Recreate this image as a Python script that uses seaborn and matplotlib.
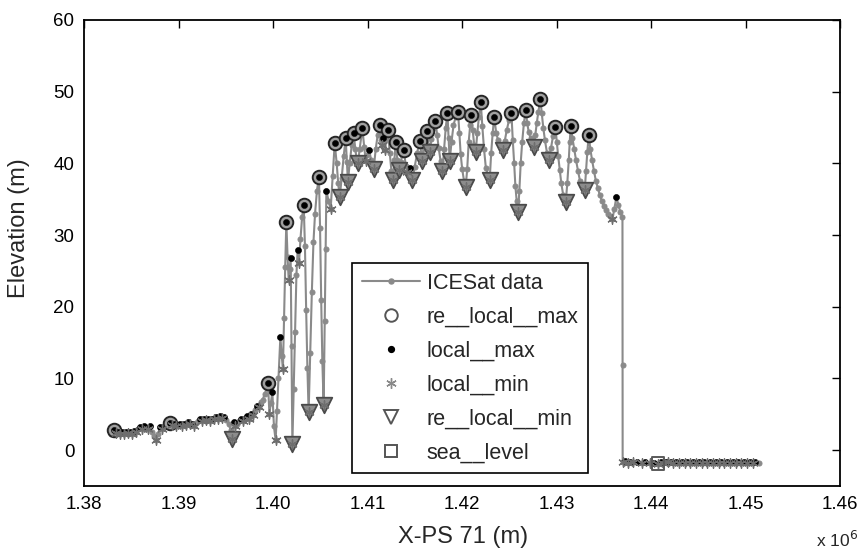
import numpy as np
import pandas as pd
import matplotlib
matplotlib.use("Agg")
import matplotlib.pyplot as plt
from matplotlib.lines import Line2D
from matplotlib.ticker import FuncFormatter
import seaborn as sns

# ---------------- data ----------------
# along-track position in km (X-PS 71) and ICESat elevation in m
x_km = [
    1382.82, 1383.03, 1383.21, 1383.40, 1383.56, 1383.77, 1383.98, 1384.19, 1384.40, 1384.62,
    1384.83, 1385.04, 1385.25, 1385.46, 1385.67, 1385.89, 1386.10, 1386.31, 1386.52, 1386.73,
    1386.94, 1387.16, 1387.37, 1387.65, 1387.84, 1388.06, 1388.27, 1388.53, 1388.80, 1389.06,
    1389.27, 1389.48, 1389.70, 1389.91, 1390.12, 1390.33, 1390.54, 1390.75, 1390.97, 1391.18,
    1391.39, 1391.60, 1391.81, 1392.02, 1392.24, 1392.45, 1392.66, 1392.87, 1393.08, 1393.29,
    1393.51, 1393.72, 1393.93, 1394.14, 1394.35, 1394.56, 1394.78, 1395.04, 1395.31, 1395.52,
    1395.70, 1395.84, 1395.99, 1396.15, 1396.36, 1396.58, 1396.79, 1397.00, 1397.21, 1397.42,
    1397.63, 1397.85, 1398.06, 1398.27, 1398.48, 1398.69, 1398.90, 1399.12, 1399.33, 1399.47,
    1399.62, 1399.77, 1399.93, 1400.10, 1400.28, 1400.42, 1400.58, 1400.78, 1400.92, 1401.05,
    1401.17, 1401.29, 1401.41, 1401.54, 1401.66, 1401.76, 1401.87, 1401.96, 1402.05, 1402.19,
    1402.33, 1402.48, 1402.61, 1402.75, 1402.91, 1403.08, 1403.25, 1403.38, 1403.51, 1403.64,
    1403.77, 1403.94, 1404.11, 1404.28, 1404.45, 1404.65, 1404.86, 1404.98, 1405.10, 1405.22,
    1405.36, 1405.47, 1405.56, 1405.65, 1405.87, 1406.10, 1406.32, 1406.53,
    1406.74, 1406.90, 1407.06, 1407.27, 1407.48, 1407.69, 1407.82, 1407.93, 1408.11, 1408.33,
    1408.54, 1408.70, 1408.86, 1408.99, 1409.17, 1409.46, 1409.65, 1409.81, 1409.99, 1410.16,
    1410.39, 1410.65, 1410.87, 1411.08, 1411.29, 1411.45, 1411.55, 1411.64, 1411.82, 1412.00,
    1412.17, 1412.35, 1412.53, 1412.70, 1412.85, 1412.98, 1413.16, 1413.33, 1413.51, 1413.69,
    1413.86, 1414.04, 1414.20, 1414.34, 1414.47, 1414.61, 1414.75, 1414.99, 1415.26, 1415.52,
    1415.67, 1415.81, 1416.00, 1416.16, 1416.30, 1416.44, 1416.58, 1416.77, 1416.95, 1417.19,
    1417.37, 1417.53, 1417.74, 1417.93, 1418.10, 1418.28, 1418.46, 1418.58, 1418.70, 1418.89,
    1419.10, 1419.33, 1419.58, 1419.72, 1419.86, 1420.02, 1420.21, 1420.39, 1420.55, 1420.71,
    1420.87, 1421.00, 1421.13, 1421.29, 1421.45, 1421.62, 1421.79, 1421.98, 1422.15, 1422.33,
    1422.53, 1422.93, 1423.09, 1423.25, 1423.41, 1423.62, 1423.83, 1424.10, 1424.34, 1424.52,
    1424.73, 1424.97, 1425.23, 1425.37, 1425.52, 1425.65, 1425.79, 1425.93, 1426.07, 1426.21,
    1426.37, 1426.55, 1426.74, 1426.90, 1427.06, 1427.25, 1427.43, 1427.62, 1427.76, 1427.91,
    1428.08, 1428.30, 1428.44, 1428.60, 1428.78, 1428.99, 1429.21, 1429.41, 1429.63, 1429.89,
    1430.03, 1430.18, 1430.34, 1430.51, 1430.71, 1430.98, 1431.14, 1431.30, 1431.40, 1431.51,
    1431.68, 1431.87, 1432.06, 1432.27, 1432.48, 1432.71, 1432.99, 1433.13, 1433.26, 1433.41,
    1433.58, 1433.76, 1433.96, 1434.16, 1434.37, 1434.58, 1434.79, 1435.00, 1435.21, 1435.44,
    1435.68, 1435.92, 1436.11, 1436.34, 1436.55, 1436.76, 1436.98, 1436.99,
    1437.00, 1437.28, 1437.55, 1437.83, 1438.10, 1438.50, 1439.00, 1439.40, 1439.85, 1440.30,
    1440.75, 1441.05, 1441.30, 1441.55, 1441.82, 1442.10, 1442.38, 1442.65, 1442.95, 1443.25,
    1443.55, 1443.85, 1444.15, 1444.45, 1444.75, 1445.05, 1445.35, 1445.65, 1445.95, 1446.25,
    1446.55, 1446.85, 1447.15, 1447.45, 1447.75, 1448.05, 1448.35, 1448.65, 1448.95, 1449.25,
    1449.55, 1449.85, 1450.15, 1450.45, 1450.75, 1451.05, 1451.45,
]
elevation = [
    2.3, 2.6, 2.8, 2.4, 2.6, 2.2, 2.5, 2.3, 2.6, 2.4,
    2.5, 2.2, 2.7, 2.5, 3.0, 3.2, 2.9, 3.3, 3.0, 2.9,
    3.3, 2.6, 2.0, 1.4, 2.3, 3.2, 3.0, 3.3, 3.5, 3.8,
    3.5, 3.6, 3.4, 3.6, 3.7, 3.4, 3.6, 3.5, 3.9, 3.6,
    3.7, 3.4, 3.8, 4.0, 4.3, 4.1, 4.4, 4.2, 4.3, 4.1,
    4.4, 4.3, 4.6, 4.4, 4.7, 4.5, 4.6, 4.2, 3.7, 2.8,
    1.5, 3.9, 3.3, 3.6, 4.1, 4.3, 4.0, 4.5, 4.7, 4.4,
    5.1, 4.9, 5.6, 6.2, 6.0, 6.7, 7.0, 7.8, 8.6, 9.3,
    5.1, 6.6, 8.1, 3.3, 1.4, 5.4, 10.0, 15.8, 13.2, 11.3,
    18.5, 25.5, 31.8, 27.0, 23.7, 25.2, 26.8, 14.5, 0.8, 8.5,
    16.5, 24.5, 27.9, 26.1, 29.5, 32.5, 34.2, 28.5, 19.5, 11.5,
    5.3, 13.5, 22.0, 29.0, 33.0, 36.2, 38.1, 31.0, 21.0, 12.5,
    6.3, 18.0, 28.0, 36.2, 34.8, 33.6, 38.3, 42.8,
    40.0, 37.2, 35.3, 38.0, 41.0, 43.5, 40.2, 37.4, 40.0, 42.5,
    44.3, 42.0, 40.6, 40.0, 42.0, 44.9, 42.3, 40.4, 41.2, 41.9,
    40.5, 39.2, 42.0, 44.0, 45.4, 43.3, 42.6, 43.5, 41.8, 43.2,
    44.6, 41.5, 39.0, 37.7, 40.5, 43.0, 40.5, 39.1, 40.2, 41.2,
    41.9, 39.7, 38.8, 39.1, 39.4, 38.4, 37.7, 39.5, 41.5, 43.1,
    41.5, 40.4, 42.2, 43.6, 44.5, 42.6, 41.6, 43.4, 44.9, 45.9,
    44.0, 42.2, 40.3, 39.0, 42.0, 45.0, 47.0, 43.5, 40.4, 43.0,
    45.3, 46.5, 47.2, 44.2, 41.3, 39.2, 37.6, 36.7, 39.2, 43.0,
    45.4, 46.7, 44.6, 42.6, 41.6, 44.2, 46.5, 48.6, 45.2, 42.0,
    39.3, 37.7, 41.5, 44.3, 46.5, 44.2, 43.2, 42.4, 41.8, 43.1,
    44.6, 46.0, 47.0, 43.3, 40.0, 36.8, 34.7, 33.2, 36.2, 40.0,
    43.0, 45.6, 47.5, 45.6, 44.4, 43.5, 42.8, 42.3, 44.0, 45.6,
    47.2, 49.0, 47.0, 45.0, 43.2, 41.5, 40.5, 42.1, 43.8, 45.1,
    43.0, 41.0, 39.1, 37.2, 35.6, 34.6, 37.2, 40.5, 43.0, 45.2,
    43.6, 42.0, 40.5, 39.0, 37.6, 36.8, 36.3, 39.0, 41.6, 43.9,
    42.0, 40.5, 39.0, 37.6, 36.6, 35.6, 34.8, 34.1, 33.5, 33.0,
    32.6, 32.2, 33.6, 35.3, 34.2, 33.2, 32.5, 11.9,
    -1.70, -1.58, -1.74, -1.62, -1.71, -1.66, -1.76, -1.70, -1.78, -1.74,
    -1.88, -1.66, -1.78, -1.62, -1.72, -1.64, -1.76, -1.66, -1.80, -1.69,
    -1.75, -1.63, -1.74, -1.66, -1.79, -1.70, -1.82, -1.68, -1.76, -1.69,
    -1.80, -1.72, -1.78, -1.67, -1.77, -1.70, -1.81, -1.71, -1.77, -1.66,
    -1.75, -1.68, -1.79, -1.70, -1.76, -1.68, -1.73,
]
# positions (km) of retained local maxima / minima and of the sea-level shot
re_local_max_km = [
    1383.21, 1389.06, 1399.47, 1401.41, 1403.25, 1404.86, 1406.53, 1407.69, 1408.54, 1409.46,
    1411.29, 1412.17, 1412.98, 1413.86, 1415.52, 1416.30, 1417.19, 1418.46, 1419.58, 1421.00,
    1421.98, 1423.41, 1425.23, 1426.74, 1428.30, 1429.89, 1431.51, 1433.41,
]
re_local_min_km = [
    1395.70, 1402.05, 1403.77, 1405.36, 1407.06, 1407.93, 1408.99, 1410.65, 1412.70, 1413.33,
    1414.75, 1415.81, 1416.58, 1417.93, 1418.70, 1420.39, 1421.45, 1422.93, 1424.34, 1425.93,
    1427.62, 1429.21, 1430.98, 1432.99,
]
sea_level_km = [1440.75]

x_ticks = [1.38, 1.39, 1.40, 1.41, 1.42, 1.43, 1.44, 1.45, 1.46]
y_ticks = [0, 10, 20, 30, 40, 50, 60]
legend_labels = ["ICESat data", "re__local__max", "local__max", "local__min",
                 "re__local__min", "sea__level"]

# ---------------- derived tables ----------------
xk = np.array(x_km)
y = np.array(elevation)
df = pd.DataFrame({"x": xk * 1000.0, "elev": y})

inner = np.arange(1, len(y) - 1)
is_max = (y[1:-1] > y[:-2]) & (y[1:-1] > y[2:])
is_min = (y[1:-1] < y[:-2]) & (y[1:-1] < y[2:])
lmax = df.iloc[inner[is_max]]
lmin = df.iloc[inner[is_min]]


def snap(lst):
    return df.iloc[[int(np.argmin(np.abs(xk - v))) for v in lst]]


rmax = snap(re_local_max_km)
rmin = snap(re_local_min_km)
sea = snap(sea_level_km)

# ---------------- figure ----------------
sns.set_theme(style="white")
plt.rcParams["font.family"] = ["Liberation Sans", "DejaVu Sans"]
plt.rcParams["axes.linewidth"] = 1.3
plt.rcParams["axes.edgecolor"] = "black"

fig = plt.figure(figsize=(8.67, 5.53), dpi=100)
ax = fig.add_axes([84 / 867, (553 - 486) / 553, (840 - 84) / 867, 466 / 553])

LINE = "#8a8a8a"
sns.lineplot(data=df, x="x", y="elev", sort=False, estimator=None, color=LINE,
             lw=1.5, marker="o", markersize=3.6, markeredgecolor=LINE,
             markerfacecolor=LINE, ax=ax, zorder=2)

sns.scatterplot(data=rmax, x="x", y="elev", marker="o", s=95, facecolor="#a0a0a0",
                edgecolor="#262626", linewidth=1.4, ax=ax, zorder=3)
sns.scatterplot(data=lmax, x="x", y="elev", marker="o", s=20, color="black",
                edgecolor="black", linewidth=0.3, ax=ax, zorder=4)
sns.scatterplot(data=rmin, x="x", y="elev", marker="v", s=125, facecolor="#8c8c8c",
                edgecolor="#4a4a4a", linewidth=1.3, ax=ax, zorder=5)
sns.scatterplot(data=lmin, x="x", y="elev", marker=(6, 2, 0), s=45, color="#6e6e6e",
                linewidth=1.0, ax=ax, zorder=6)
sns.scatterplot(data=sea, x="x", y="elev", marker="s", s=80, facecolor="none",
                edgecolor="#5a5a5a", linewidth=1.4, ax=ax, zorder=7)

ax.set_xlim(1.38e6, 1.46e6)
ax.set_ylim(-5, 60)
ax.set_xticks([t * 1e6 for t in x_ticks])
ax.xaxis.set_major_formatter(FuncFormatter(lambda v, p: f"{v / 1e6:.2f}"))
ax.set_yticks(y_ticks)
ax.tick_params(direction="in", top=True, right=True, length=6, width=1.0,
               labelsize=13.5, colors="black", pad=7)
for s in ax.spines.values():
    s.set_visible(True)
    s.set_color("black")
    s.set_linewidth(1.3)

ax.set_xlabel("X-PS 71 (m)", fontsize=17)
ax.set_ylabel("Elevation (m)", fontsize=17)
ax.xaxis.label.set_va("center")
ax.yaxis.label.set_va("center")
ax.xaxis.set_label_coords(0.501, -0.109)
ax.yaxis.set_label_coords(-0.086, 0.554)
fig.text(0.99, 0.006, r"x 10$^{6}$", ha="right", va="bottom", fontsize=12.5)

handles = [
    Line2D([], [], color=LINE, lw=1.5, marker="o", ms=3.6, mfc=LINE, mec=LINE),
    Line2D([], [], ls="", marker="o", ms=9, mfc="none", mec="#555555", mew=1.4),
    Line2D([], [], ls="", marker="o", ms=4.2, mfc="black", mec="black"),
    Line2D([], [], ls="", marker=(6, 2, 0), ms=7.5, color="#8a8a8a", mew=1.0),
    Line2D([], [], ls="", marker="v", ms=10.5, mfc="none", mec="#555555", mew=1.4),
    Line2D([], [], ls="", marker="s", ms=8.5, mfc="none", mec="#555555", mew=1.4),
]
leg = ax.legend(handles, legend_labels, loc="lower left", bbox_to_anchor=(0.355, 0.028),
                fontsize=15.5, frameon=True, fancybox=False, framealpha=1,
                edgecolor="black", borderpad=0.45, handlelength=2.7,
                handletextpad=0.3, labelspacing=0.6, borderaxespad=0, numpoints=1)
leg.get_frame().set_linewidth(1.2)
leg.set_zorder(10)

fig.savefig("out.png", dpi=100)
